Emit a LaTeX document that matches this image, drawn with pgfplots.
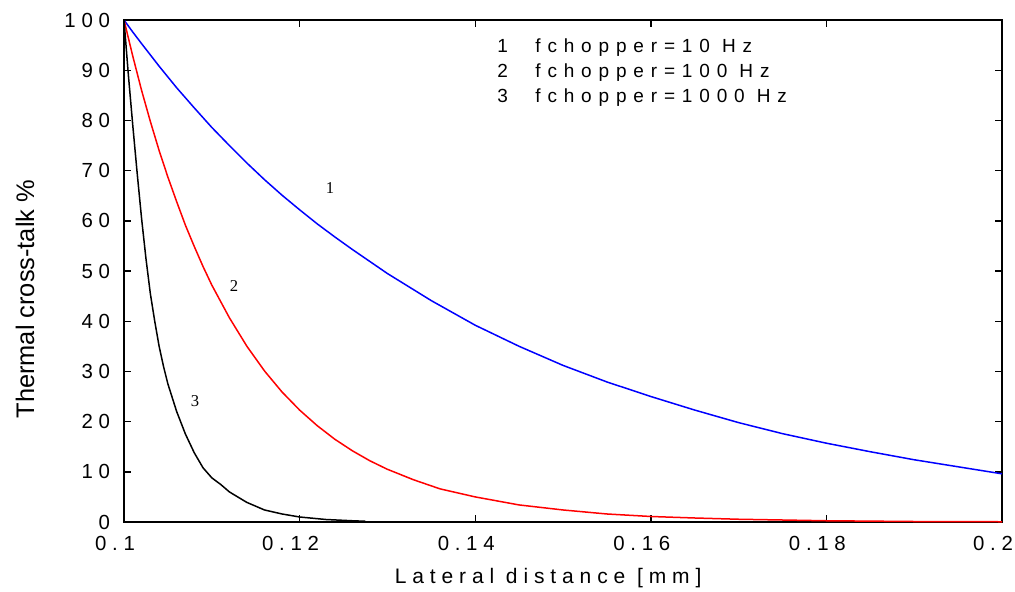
\documentclass[border=0pt]{standalone}
\usepackage{fontspec}
\setmainfont{Liberation Sans}
\newfontfamily\spaced[LetterSpace=28]{Liberation Sans}
\newfontfamily\legspaced[LetterSpace=36]{Liberation Sans}
\newfontfamily\serifnum{Liberation Serif}
\usepackage{pgfplots}
\pgfplotsset{compat=1.18}
\begin{document}
\begin{tikzpicture}
\begin{axis}[
  name=ax, at={(0,0)}, anchor=south west,
  scale only axis, width=439pt, height=251pt,
  xmin=0.1, xmax=0.2, ymin=0, ymax=100,
  xtick={0.1,0.12,0.14,0.16,0.18,0.2},
  xticklabels={0.1,0.12,0.14,0.16,0.18,0.2},
  ytick={0,10,20,30,40,50,60,70,80,90,100},
  tick align=inside, major tick length=3.5pt,
  tick style={black, line width=0.7pt},
  axis line style={line width=1.2pt},
  /pgf/number format/assume math mode=true,
  ticklabel style={font=\spaced\fontsize{10.2}{12}\selectfont},
  xticklabel style={yshift=-3.5pt, xshift=-4.5pt},
  yticklabel style={xshift=-3.5pt},
  xlabel={Lateral distance [mm]},
  xlabel style={font=\spaced\fontsize{10.5}{12}\selectfont, at={(axis description cs:0.483,-0.1116)}, anchor=center},
  ylabel={Thermal cross-talk \%},
  ylabel style={font=\fontsize{12.7}{14}\selectfont, at={(axis description cs:-0.1128,0.444)}, anchor=center},
]
\addplot[blue, line width=0.75pt] coordinates {
(0.100,100) (0.101,97.6) (0.102,95.3) (0.104,90.8) (0.106,86.5) (0.108,82.5)
(0.110,78.6) (0.112,75.0) (0.114,71.5) (0.116,68.2) (0.118,65.1) (0.120,62.2)
(0.122,59.4) (0.124,56.8) (0.126,54.3) (0.128,51.9) (0.130,49.5) (0.135,44.1)
(0.140,39.2) (0.145,35.0) (0.150,31.2) (0.155,27.9) (0.160,25.0) (0.165,22.3)
(0.170,19.8) (0.175,17.6) (0.180,15.7) (0.185,14.0) (0.190,12.4) (0.195,11.0)
(0.200,9.6)
};
\addplot[red, line width=0.75pt] coordinates {
(0.100,100) (0.101,92.8) (0.102,86.0) (0.103,79.8) (0.104,74.0) (0.105,68.7)
(0.106,63.8) (0.107,59.1) (0.108,54.9) (0.109,50.9) (0.110,47.2) (0.112,40.7)
(0.114,35.0) (0.116,30.1) (0.118,25.9) (0.120,22.3) (0.122,19.2) (0.124,16.5)
(0.126,14.2) (0.128,12.2) (0.130,10.5) (0.133,8.4) (0.136,6.6) (0.140,5.0)
(0.145,3.4) (0.150,2.4) (0.155,1.6) (0.160,1.1) (0.165,0.8) (0.170,0.55)
(0.175,0.4) (0.180,0.25) (0.190,0.1) (0.200,0.05)
};
\addplot[black, line width=0.75pt] coordinates {
(0.1000,100) (0.1005,89) (0.1010,79) (0.1015,69.5) (0.1020,60.5) (0.1025,52.5)
(0.1030,45.5) (0.1035,40) (0.1040,35) (0.1045,31) (0.1050,27.5) (0.1060,22)
(0.1070,17.5) (0.1080,13.8) (0.1090,10.8) (0.1100,8.8) (0.1110,7.5) (0.1120,6.0)
(0.1140,3.9) (0.1160,2.4) (0.1180,1.6) (0.1200,1.0) (0.1230,0.5) (0.1260,0.25)
(0.1275,0.15)
};
\node[font=\serifnum\fontsize{8.3}{10}\selectfont] at (axis cs:0.12346,66.5) {1};
\node[font=\serifnum\fontsize{8.3}{10}\selectfont] at (axis cs:0.11253,47.0) {2};
\node[font=\serifnum\fontsize{8.3}{10}\selectfont] at (axis cs:0.10809,24.1) {3};
\node[anchor=base west, inner sep=0pt, font=\legspaced\fontsize{9.5}{11}\selectfont] at (axis cs:0.14248,93.5) {1};
\node[anchor=base west, inner sep=0pt, font=\legspaced\fontsize{9.5}{11}\selectfont] at (axis cs:0.14681,93.5) {fchopper=10 Hz};
\node[anchor=base west, inner sep=0pt, font=\legspaced\fontsize{9.5}{11}\selectfont] at (axis cs:0.14248,88.5) {2};
\node[anchor=base west, inner sep=0pt, font=\legspaced\fontsize{9.5}{11}\selectfont] at (axis cs:0.14681,88.5) {fchopper=100 Hz};
\node[anchor=base west, inner sep=0pt, font=\legspaced\fontsize{9.5}{11}\selectfont] at (axis cs:0.14248,83.5) {3};
\node[anchor=base west, inner sep=0pt, font=\legspaced\fontsize{9.5}{11}\selectfont] at (axis cs:0.14681,83.5) {fchopper=1000 Hz};
\end{axis}
\pgfresetboundingbox
\path (ax.south west) ++(-62pt,-34.5pt) rectangle ++(507.5pt,295.5pt);
\end{tikzpicture}
\end{document}
